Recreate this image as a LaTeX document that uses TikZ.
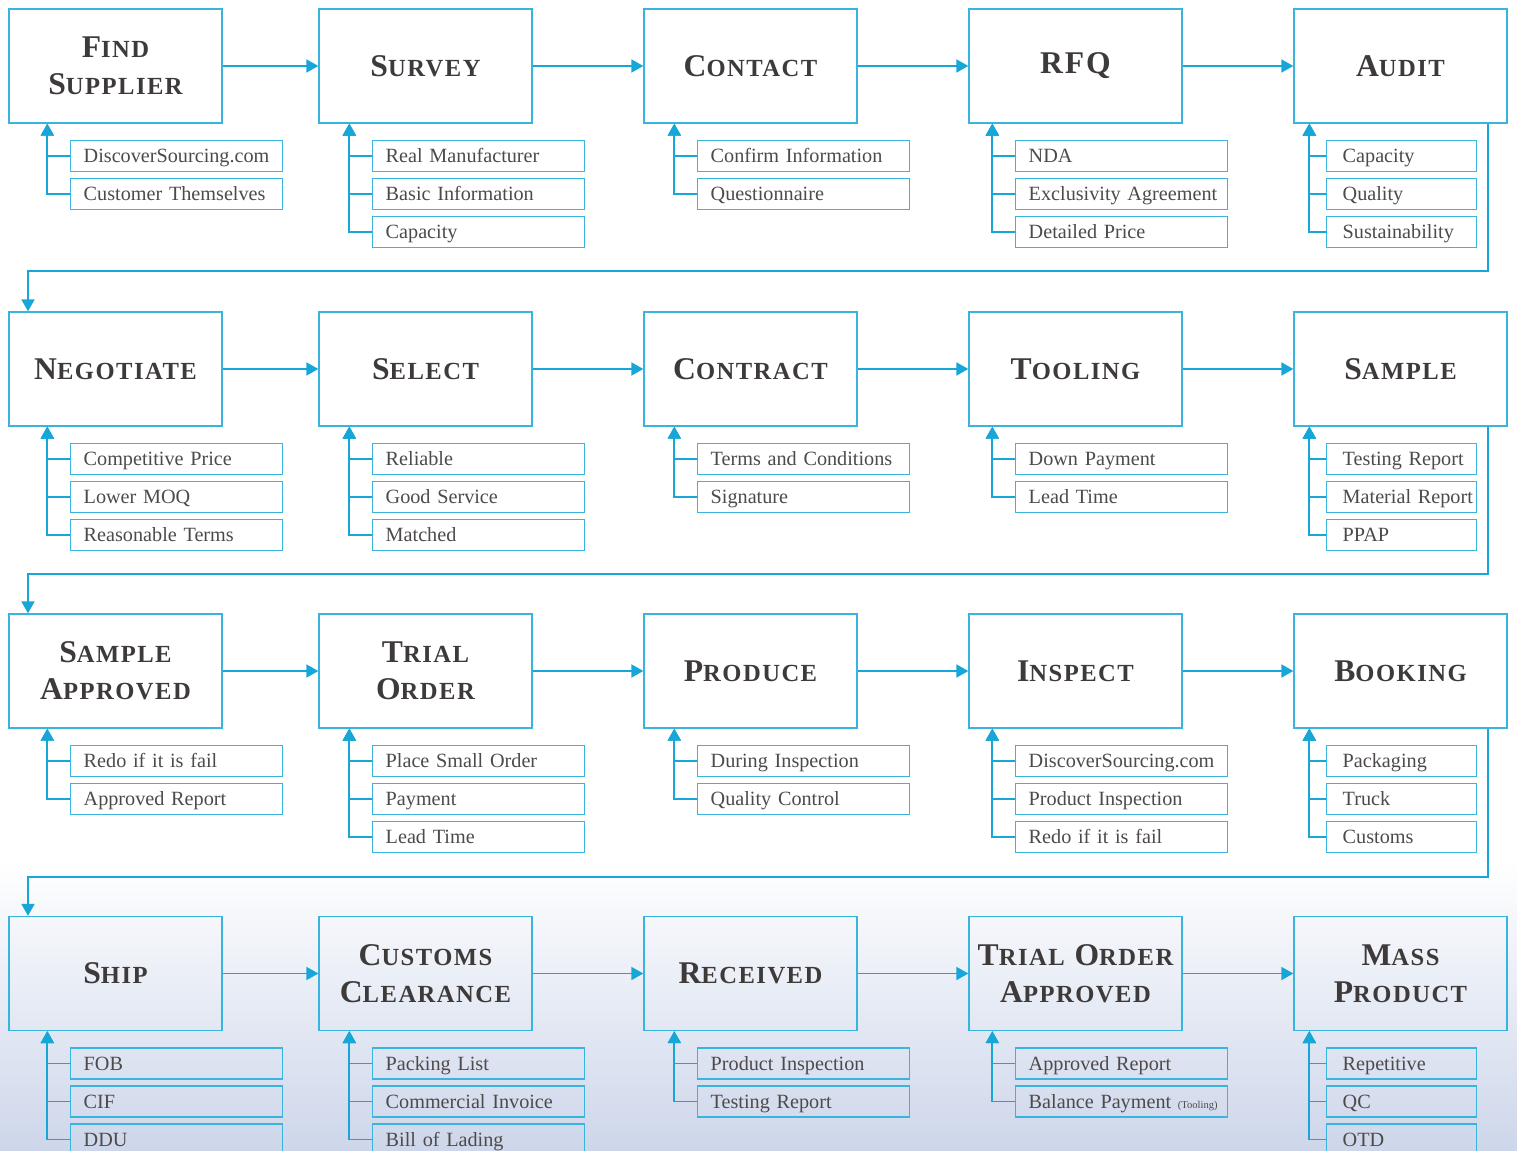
\documentclass[tikz,border=0pt]{standalone}
\usepackage{fontspec}
\setmainfont{Liberation Serif}
\newfontfamily\headfont[LetterSpace=6]{Liberation Serif}
\usetikzlibrary{calc}
\usetikzlibrary{arrows.meta}
\definecolor{flowblue}{HTML}{16A6D8}
\definecolor{boxblue}{HTML}{38B4DE}
\definecolor{headgray}{HTML}{3E3A3A}
\definecolor{itemgray}{HTML}{4E4A4A}
\definecolor{bgblue}{HTML}{CDD6EA}
\newcommand{\firstcap}[2]{{\fontsize{18}{21}\selectfont #1}{\fontsize{14}{21}\selectfont #2}}
\tikzset{
  stage/.style={draw=boxblue, line width=0.8pt, minimum width=4.26cm, minimum height=2.28cm,
    align=center, text=headgray, font=\headfont\bfseries\fontsize{18}{21}\selectfont},
  item/.style={draw=boxblue, line width=0.8pt, anchor=west, minimum height=0.62cm,
    inner xsep=0.26cm, inner ysep=0pt, text width=3.72cm, text height=7.6pt, text depth=0pt,
    align=left, text=itemgray, font=\fontsize{11.5}{13}\selectfont,
    execute at begin node={\hbox\bgroup}, execute at end node={\egroup}},
  narrow/.style={inner xsep=0.32cm, text width=2.36cm},
  flow/.style={draw=flowblue, line width=1pt, -{Triangle[length=6.8pt,width=7.4pt]}},
}
\begin{document}
\begin{tikzpicture}[x=0.02cm, y=-0.02cm]
    % Hintergrund
    \fill[white] (0,0) rectangle (1517,1151);
    \shade[top color=white, bottom color=bgblue] (0,860) rectangle (1517,1151);
    \useasboundingbox (0,0) rectangle (1517,1151);
    % Reihe 1
    \node[stage] (find) at (115.5,66) {\firstcap{F}{IND}\\\firstcap{S}{UPPLIER}};
    \node[stage] (survey) at (425.5,66) {\firstcap{S}{URVEY}};
    \node[stage] (contact) at (750.5,66) {\firstcap{C}{ONTACT}};
    \node[stage] (rfq) at (1075.5,66) {RFQ};
    \node[stage] (audit) at (1400.5,66) {\firstcap{A}{UDIT}};
    \node[item] (find1) at (70,156) {DiscoverSourcing.com};
    \node[item] (find2) at (70,194) {Customer Themselves};
    \node[item] (survey1) at (372,156) {Real Manufacturer};
    \node[item] (survey2) at (372,194) {Basic Information};
    \node[item] (survey3) at (372,232) {Capacity};
    \node[item] (contact1) at (697,156) {Confirm Information};
    \node[item] (contact2) at (697,194) {Questionnaire};
    \node[item] (rfq1) at (1015,156) {NDA};
    \node[item] (rfq2) at (1015,194) {Exclusivity Agreement};
    \node[item] (rfq3) at (1015,232) {Detailed Price};
    \node[item, narrow] (audit1) at (1326,156) {Capacity};
    \node[item, narrow] (audit2) at (1326,194) {Quality};
    \node[item, narrow] (audit3) at (1326,232) {Sustainability};
    % Reihe 2
    \node[stage] (negotiate) at (115.5,369) {\firstcap{N}{EGOTIATE}};
    \node[stage] (select) at (425.5,369) {\firstcap{S}{ELECT}};
    \node[stage] (contract) at (750.5,369) {\firstcap{C}{ONTRACT}};
    \node[stage] (tooling) at (1075.5,369) {\firstcap{T}{OOLING}};
    \node[stage] (sample) at (1400.5,369) {\firstcap{S}{AMPLE}};
    \node[item] (negotiate1) at (70,459) {Competitive Price};
    \node[item] (negotiate2) at (70,497) {Lower MOQ};
    \node[item] (negotiate3) at (70,535) {Reasonable Terms};
    \node[item] (select1) at (372,459) {Reliable};
    \node[item] (select2) at (372,497) {Good Service};
    \node[item] (select3) at (372,535) {Matched};
    \node[item] (contract1) at (697,459) {Terms and Conditions};
    \node[item] (contract2) at (697,497) {Signature};
    \node[item] (tooling1) at (1015,459) {Down Payment};
    \node[item] (tooling2) at (1015,497) {Lead Time};
    \node[item, narrow] (sample1) at (1326,459) {Testing Report};
    \node[item, narrow] (sample2) at (1326,497) {Material Report};
    \node[item, narrow] (sample3) at (1326,535) {PPAP};
    % Reihe 3
    \node[stage] (approved) at (115.5,671) {\firstcap{S}{AMPLE}\\\firstcap{A}{PPROVED}};
    \node[stage] (trial) at (425.5,671) {\firstcap{T}{RIAL}\\\firstcap{O}{RDER}};
    \node[stage] (produce) at (750.5,671) {\firstcap{P}{RODUCE}};
    \node[stage] (inspect) at (1075.5,671) {\firstcap{I}{NSPECT}};
    \node[stage] (booking) at (1400.5,671) {\firstcap{B}{OOKING}};
    \node[item] (approved1) at (70,761) {Redo if it is fail};
    \node[item] (approved2) at (70,799) {Approved Report};
    \node[item] (trial1) at (372,761) {Place Small Order};
    \node[item] (trial2) at (372,799) {Payment};
    \node[item] (trial3) at (372,837) {Lead Time};
    \node[item] (produce1) at (697,761) {During Inspection};
    \node[item] (produce2) at (697,799) {Quality Control};
    \node[item] (inspect1) at (1015,761) {DiscoverSourcing.com};
    \node[item] (inspect2) at (1015,799) {Product Inspection};
    \node[item] (inspect3) at (1015,837) {Redo if it is fail};
    \node[item, narrow] (booking1) at (1326,761) {Packaging};
    \node[item, narrow] (booking2) at (1326,799) {Truck};
    \node[item, narrow] (booking3) at (1326,837) {Customs};
    % Reihe 4
    \node[stage] (ship) at (115.5,973.5) {\firstcap{S}{HIP}};
    \node[stage] (customs) at (425.5,973.5) {\firstcap{C}{USTOMS}\\\firstcap{C}{LEARANCE}};
    \node[stage] (received) at (750.5,973.5) {\firstcap{R}{ECEIVED}};
    \node[stage] (trialok) at (1075.5,973.5) {\firstcap{T}{RIAL} \firstcap{O}{RDER}\\\firstcap{A}{PPROVED}};
    \node[stage] (mass) at (1400.5,973.5) {\firstcap{M}{ASS}\\\firstcap{P}{RODUCT}};
    \node[item] (ship1) at (70,1063.5) {FOB};
    \node[item] (ship2) at (70,1101.5) {CIF};
    \node[item] (ship3) at (70,1139.5) {DDU};
    \node[item] (customs1) at (372,1063.5) {Packing List};
    \node[item] (customs2) at (372,1101.5) {Commercial Invoice};
    \node[item] (customs3) at (372,1139.5) {Bill of Lading};
    \node[item] (received1) at (697,1063.5) {Product Inspection};
    \node[item] (received2) at (697,1101.5) {Testing Report};
    \node[item] (trialok1) at (1015,1063.5) {Approved Report};
    \node[item] (trialok2) at (1015,1101.5) {Balance Payment {\fontsize{6}{7}\selectfont (Tooling)}};
    \node[item, narrow] (mass1) at (1326,1063.5) {Repetitive};
    \node[item, narrow] (mass2) at (1326,1101.5) {QC};
    \node[item, narrow] (mass3) at (1326,1139.5) {OTD};
    % Pfeile zwischen den Schritten
    \foreach \a/\b in {find/survey, survey/contact, contact/rfq, rfq/audit,
      negotiate/select, select/contract, contract/tooling, tooling/sample,
      approved/trial, trial/produce, produce/inspect, inspect/booking,
      ship/customs, customs/received, received/trialok, trialok/mass}
      \draw[flow] (\a.east) -- (\b.west);
    % Zeilenumbrueche
    \coordinate (w1a) at (1488,271);
    \coordinate (w1b) at (28,271);
    \coordinate (w2a) at (1488,574);
    \coordinate (w2b) at (28,574);
    \coordinate (w3a) at (1488,877);
    \coordinate (w3b) at (28,877);
    \draw[flow] (audit.south -| w1a) -- (w1a) -- (w1b) -- (negotiate.north -| w1b);
    \draw[flow] (sample.south -| w2a) -- (w2a) -- (w2b) -- (approved.north -| w2b);
    \draw[flow] (booking.south -| w3a) -- (w3a) -- (w3b) -- (ship.north -| w3b);
    % Unterpunkte
    \foreach \s/\n in {find/2, negotiate/3, approved/2, ship/3}
      \foreach \i in {1,...,\n}
        \draw[flow] (\s\i.west) -| ($(\s.south west)+(39,0)$);
    \foreach \s/\n in {survey/3, contact/2, select/3, contract/2, trial/3, produce/2, customs/3, received/2}
      \foreach \i in {1,...,\n}
        \draw[flow] (\s\i.west) -| ($(\s.south west)+(31,0)$);
    \foreach \s/\n in {rfq/3, tooling/2, inspect/3, trialok/2}
      \foreach \i in {1,...,\n}
        \draw[flow] (\s\i.west) -| ($(\s.south west)+(24,0)$);
    \foreach \s/\n in {audit/3, sample/3, booking/3, mass/3}
      \foreach \i in {1,...,\n}
        \draw[flow] (\s\i.west) -| ($(\s.south west)+(16,0)$);
\end{tikzpicture}
\end{document}
